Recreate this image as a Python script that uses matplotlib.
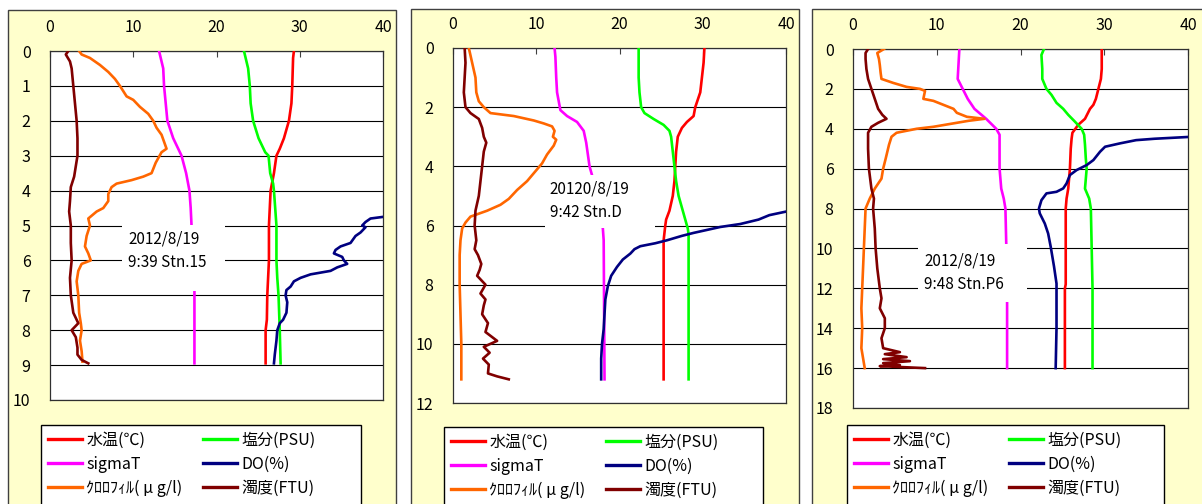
import matplotlib
matplotlib.use("Agg")
import matplotlib.pyplot as plt
from matplotlib.patches import Rectangle
from matplotlib.lines import Line2D

plt.rcParams['font.family'] = ['Noto Sans CJK JP', 'DejaVu Sans']

W, H = 1202, 504

# ---- Stn.15 ----
p1_temp_d = [0, 0.2, 1.0, 1.5, 2.0, 2.5, 2.8, 3.0, 3.5, 4.0, 5.0, 6.0, 6.5, 7.0, 7.7, 8.0, 8.95]
p1_temp = [29.3, 29.2, 29.1, 29.0, 28.7, 28.1, 27.6, 27.2, 26.9, 26.5, 26.3, 26.3, 26.2, 26.1, 26.05, 25.9, 25.9]
p1_sal_d = [0, 0.3, 0.5, 1, 1.5, 2, 2.5, 2.9, 3.0, 3.5, 3.8, 4.0, 4.5, 5, 6, 6.5, 7, 8, 8.95]
p1_sal = [23.3, 23.6, 23.8, 24.0, 24.1, 24.4, 25.05, 25.85, 26.25, 26.45, 26.8, 26.9, 27.05, 27.2, 27.2, 27.3, 27.45, 27.6, 27.7]
p1_sig_d = [0, 0.5, 1.0, 1.5, 2.0, 2.5, 3.0, 3.5, 4.0, 4.5, 5.0, 6.85, 8.95]
p1_sig = [13.1, 13.6, 13.7, 13.9, 14.1, 14.8, 15.8, 16.35, 16.75, 16.9, 17.0, 17.35, 17.35]
p1_do_d = [4.7, 4.75, 4.8, 4.9, 5.0, 5.05, 5.2, 5.3, 5.5, 5.6, 5.7, 5.8, 5.9, 6.0, 6.1, 6.2, 6.3, 6.4,
           6.5, 6.6, 6.75, 6.85, 7.0, 7.2, 7.5, 7.7, 7.8, 8.0, 8.3, 8.7, 8.95]
p1_do = [40.5, 40.1, 38.5, 37.9, 37.5, 37.9, 37.3, 36.7, 36.1, 34.9, 34.3, 34.1, 35.1, 35.3, 35.7, 34.5,
         33.7, 31.3, 30.1, 29.3, 28.9, 28.4, 28.3, 28.5, 28.4, 28.0, 27.6, 27.3, 27.2, 27.0, 26.9]
p1_chl_d = [0, 0.1, 0.2, 0.4, 0.6, 0.8, 1.0, 1.3, 1.4, 1.6, 1.8, 2.0, 2.2, 2.4, 2.6, 2.8, 2.9, 3.2, 3.5,
            3.6, 3.7, 3.8, 3.9, 4.1, 4.3, 4.5, 4.6, 4.8, 5.0, 5.3, 5.6, 5.8, 6.0, 6.1, 6.3, 6.6, 7.0,
            7.5, 7.8, 8.0, 8.3, 8.6, 8.9]
p1_chl = [3.5, 3.8, 4.8, 6.0, 7.0, 7.8, 8.4, 9.2, 10.0, 10.8, 11.8, 12.4, 12.8, 13.4, 13.7, 14.0, 13.4,
          12.7, 12.2, 11.2, 9.8, 8.0, 7.4, 7.0, 7.0, 6.4, 5.6, 4.6, 4.8, 4.4, 4.2, 4.6, 4.9, 3.8, 3.4,
          3.2, 3.4, 3.5, 3.7, 3.8, 3.6, 3.8, 3.9]
p1_tur_d = [0, 0.1, 0.3, 0.5, 1.0, 1.5, 2.0, 2.5, 3.0, 3.3, 3.6, 3.9, 4.3, 4.6, 5.0, 5.5, 6.0, 6.5, 7.0,
            7.5, 7.8, 8.0, 8.2, 8.5, 8.7, 8.85, 8.95]
p1_tur = [2.2, 1.9, 2.4, 2.6, 2.8, 3.0, 3.2, 3.3, 3.3, 3.1, 2.9, 2.5, 2.4, 2.3, 2.5, 2.5, 2.6, 2.4, 2.5,
          2.8, 3.4, 2.6, 3.1, 3.3, 3.3, 3.8, 4.6]

# ---- Stn.D ----
p2_temp_d = [0, 0.5, 1.0, 1.5, 2.0, 2.3, 2.5, 2.7, 3.0, 3.5, 4.0, 4.5, 5.0, 5.5, 5.8, 6.0, 6.5, 11.2]
p2_temp = [30.2, 30.1, 29.9, 29.7, 29.1, 28.9, 28.1, 27.5, 27.0, 26.8, 26.7, 26.6, 26.4, 26.0, 25.6, 25.5, 25.3, 25.3]
p2_sal_d = [0, 1.0, 1.5, 2.0, 2.2, 2.4, 2.6, 2.8, 3.0, 3.5, 4.0, 4.5, 5.0, 5.5, 5.8, 6.1, 6.3, 11.2]
p2_sal = [22.3, 22.3, 22.4, 22.6, 23.0, 24.1, 25.3, 26.0, 26.2, 26.4, 26.6, 26.8, 27.1, 27.6, 27.9, 28.2, 28.3, 28.3]
p2_sig_d = [0, 0.3, 1.0, 1.5, 1.8, 2.1, 2.3, 2.5, 2.8, 3.2, 3.6, 4.0, 4.3, 6.1, 6.5, 11.2]
p2_sig = [12.2, 12.3, 12.4, 12.5, 12.7, 12.9, 13.7, 14.9, 15.7, 16.0, 16.2, 16.4, 16.7, 18.0, 18.1, 18.2]
p2_do_d = [5.5, 5.65, 5.8, 5.95, 6.05, 6.15, 6.25, 6.35, 6.5, 6.6, 6.7, 6.8, 6.95, 7.15, 7.4, 7.7, 8.05,
           8.5, 9.0, 9.5, 10.0, 10.5, 11.2]
p2_do = [40.5, 38.0, 36.7, 34.5, 32.1, 30.5, 28.9, 27.5, 25.7, 24.3, 22.5, 21.8, 21.3, 20.4, 19.7, 19.0,
         18.6, 18.3, 18.2, 18.1, 17.9, 17.8, 17.8]
p2_chl_d = [0, 0.5, 1.0, 1.5, 1.8, 2.0, 2.2, 2.3, 2.45, 2.55, 2.65, 2.8, 3.0, 3.1, 3.3, 3.6, 3.9, 4.1,
            4.5, 4.8, 5.1, 5.3, 5.5, 5.7, 5.9, 6.1, 6.5, 7.0, 8.0, 9.0, 10.0, 11.2]
p2_chl = [1.9, 2.3, 2.7, 2.8, 3.1, 3.7, 4.5, 7.3, 9.7, 10.9, 11.9, 12.2, 12.0, 12.4, 12.1, 11.3, 10.7,
          10.1, 8.9, 7.7, 6.7, 5.7, 4.1, 2.1, 1.5, 1.1, 0.9, 0.8, 0.8, 0.9, 1.0, 1.0]
p2_tur_d = [0, 0.5, 1.0, 1.5, 2.0, 2.2, 2.4, 2.7, 3.0, 3.2, 3.5, 4.0, 4.5, 5.0, 5.5, 6.0, 6.5, 6.8, 7.0,
            7.3, 7.5, 7.7, 8.0, 8.3, 8.5, 8.7, 9.0, 9.3, 9.6, 9.9, 10.1, 10.3, 10.5, 10.7, 11.0, 11.1, 11.2]
p2_tur = [1.4, 1.5, 1.4, 1.3, 1.5, 2.1, 3.1, 3.5, 3.7, 4.0, 3.7, 3.5, 3.3, 3.1, 2.7, 2.6, 2.8, 2.6, 3.0,
          3.4, 3.2, 2.9, 3.9, 3.3, 3.9, 3.7, 3.5, 4.2, 3.9, 5.3, 3.7, 4.4, 3.6, 4.3, 4.2, 5.3, 6.7]

# ---- Stn.P6 ----
p3_temp_d = [0, 1.0, 1.5, 2.0, 2.5, 2.8, 3.0, 3.5, 3.8, 4.2, 4.5, 5.0, 6.0, 7.0, 7.5, 8.0, 10.0, 11.8, 12.0, 16.0]
p3_temp = [29.7, 29.7, 29.6, 29.3, 29.0, 28.7, 28.3, 27.7, 26.9, 26.2, 26.1, 26.0, 25.9, 25.7, 25.5, 25.4,
           25.4, 25.4, 25.3, 25.3]
p3_sal_d = [0, 0.3, 1.0, 1.5, 2.0, 2.3, 2.7, 3.0, 3.3, 3.6, 4.0, 4.3, 4.8, 5.5, 6.0, 7.0, 7.5, 8.0, 10.0, 12.0, 16.0]
p3_sal = [22.8, 22.5, 22.6, 22.6, 23.1, 23.7, 24.3, 25.1, 25.7, 26.4, 27.3, 27.6, 27.7, 27.8, 27.9, 27.7,
          28.2, 28.4, 28.5, 28.6, 28.6]
p3_sig_d = [0, 1.5, 2.0, 2.5, 3.0, 3.5, 4.0, 4.3, 5.0, 6.0, 7.0, 7.5, 8.0, 9.8, 12.7, 16.0]
p3_sig = [12.7, 12.5, 13.1, 13.7, 14.5, 15.9, 17.1, 17.5, 17.5, 17.5, 17.7, 18.0, 18.2, 18.3, 18.4, 18.4]
p3_do_d = [4.4, 4.5, 4.57, 4.73, 4.9, 5.15, 5.57, 5.82, 6.07, 6.32, 6.74, 6.99, 7.16, 7.24, 7.58, 8.0,
           8.24, 8.75, 9.25, 9.9, 10.9, 11.76, 14.0, 16.0]
p3_do = [40.5, 36.0, 33.8, 31.9, 30.1, 29.5, 28.7, 27.9, 26.7, 25.9, 25.5, 25.1, 24.3, 23.1, 22.5, 22.2,
         22.3, 22.9, 23.3, 23.6, 24.0, 24.3, 24.3, 24.2]
p3_chl_d = [0, 0.2, 0.5, 0.8, 1.2, 1.5, 1.7, 1.9, 2.0, 2.1, 2.5, 2.6, 2.8, 3.0, 3.2, 3.4, 3.5, 3.6, 3.7,
            3.9, 4.0, 4.2, 4.4, 4.8, 5.5, 6.0, 6.5, 7.0, 7.5, 8.0, 9.0, 10.0, 11.0, 12.0, 13.0, 14.0, 15.0, 16.0]
p3_chl = [3.7, 2.9, 3.1, 3.2, 3.3, 3.4, 4.8, 6.4, 8.0, 8.6, 8.4, 9.6, 10.8, 12.0, 12.4, 13.6, 15.7, 13.8,
          12.4, 9.6, 7.6, 5.2, 4.6, 4.3, 3.9, 3.6, 3.4, 2.6, 2.0, 1.5, 1.4, 1.3, 1.2, 1.1, 1.0, 1.1, 1.0, 1.4]
p3_tur_d = [0, 0.2, 0.5, 1.0, 1.5, 2.0, 2.5, 3.0, 3.3, 3.5, 3.7, 3.9, 4.2, 5.0, 6.0, 7.0, 7.5, 8.0, 9.0,
            10.0, 11.0, 12.0, 12.5, 13.0, 13.5, 14.0, 14.5, 15.0, 15.2, 15.3, 15.45, 15.55, 15.65, 15.75,
            15.85, 15.9, 16.0]
p3_tur = [1.8, 1.5, 1.5, 1.6, 1.8, 2.2, 2.6, 3.0, 3.5, 4.0, 3.0, 2.2, 1.8, 1.8, 1.9, 2.2, 2.5, 2.4, 2.6,
          2.7, 2.9, 3.2, 3.4, 3.2, 3.8, 3.8, 3.4, 3.6, 5.6, 3.8, 6.4, 3.6, 6.8, 3.6, 5.6, 3.2, 8.6]

labels = ['水温(℃)', 'sigmaT', 'ｸﾛﾛﾌｨﾙ( μ g/l)', '塩分(PSU)', 'DO(%)', '濁度(FTU)']
colors = ['#FF0000', '#FF00FF', '#FF6600', '#00FF00', '#000080', '#800000']

notes = ['2012/8/19\n9:39 Stn.15', '20120/8/19\n9:42 Stn.D', '2012/8/19\n9:48 Stn.P6']
ymax = [10, 12, 18]
ystep = [1, 2, 2]

panels = [
    [(p1_temp_d, p1_temp), (p1_sig_d, p1_sig), (p1_chl_d, p1_chl),
     (p1_sal_d, p1_sal), (p1_do_d, p1_do), (p1_tur_d, p1_tur)],
    [(p2_temp_d, p2_temp), (p2_sig_d, p2_sig), (p2_chl_d, p2_chl),
     (p2_sal_d, p2_sal), (p2_do_d, p2_do), (p2_tur_d, p2_tur)],
    [(p3_temp_d, p3_temp), (p3_sig_d, p3_sig), (p3_chl_d, p3_chl),
     (p3_sal_d, p3_sal), (p3_do_d, p3_do), (p3_tur_d, p3_tur)],
]

# layout in pixels (left, top, right, bottom)
frames = [(8, 10, 396, 520), (411, 9, 799, 520), (812, 9, 1215, 520)]
axboxes = [(50, 51, 383, 400), (453, 48, 786, 403), (853, 49, 1188, 408)]
legboxes = [(41, 425, 361, 520), (444, 427, 763, 520), (847, 425, 1164, 520)]
# note box in data units (x0, x1, d0, d1) and text anchor
note_box = [(8.65, 21.0, 4.99, 6.88), (11.05, 24.25, 4.29, 6.1), (7.76, 20.8, 9.8, 12.7)]
note_xy = [(9.4, 5.72), (11.6, 5.17), (8.5, 11.2)]


def fig_rect(l, t, r, b):
    return [l / W, 1 - b / H, (r - l) / W, (b - t) / H]


fig = plt.figure(figsize=(W / 100, H / 100), dpi=100)
fig.patch.set_facecolor('white')

for i in range(3):
    fr = fig_rect(*frames[i])
    fig.add_artist(Rectangle((fr[0], fr[1]), fr[2], fr[3], transform=fig.transFigure,
                             facecolor='#FFFFCC', edgecolor='#404040', lw=1.0, zorder=0))

    ax = fig.add_axes(fig_rect(*axboxes[i]))
    ax.set_facecolor('white')
    for (d, v), c in zip(panels[i], colors):
        ax.plot(v, d, color=c, lw=1.9, zorder=3)

    ax.set_xlim(0, 40)
    ax.set_ylim(ymax[i], 0)
    ax.set_xticks([0, 10, 20, 30, 40])
    ax.set_yticks(list(range(0, ymax[i] + 1, ystep[i])))
    ax.xaxis.tick_top()
    ax.tick_params(axis='x', direction='in', length=4, pad=11, labelsize=11.5, color='#404040')
    ax.tick_params(axis='y', length=0, pad=14, labelsize=11.5)
    ax.yaxis.grid(True, color='black', lw=0.8, zorder=1)
    ax.set_axisbelow(True)
    for s in ax.spines.values():
        s.set_color('#303030')
        s.set_linewidth(0.9)

    # white label box over the lines
    x0, x1, d0, d1 = note_box[i]
    ax.add_patch(Rectangle((x0, d0), x1 - x0, d1 - d0, facecolor='white', edgecolor='none', zorder=4))
    ax.text(note_xy[i][0], note_xy[i][1], notes[i], fontsize=11, va='center', ha='left',
            linespacing=1.5, zorder=5)

    # legend box
    lr = fig_rect(*legboxes[i])
    fig.add_artist(Rectangle((lr[0], lr[1]), lr[2], lr[3], transform=fig.transFigure,
                             facecolor='white', edgecolor='black', lw=1.0, zorder=1))
    handles = [Line2D([0], [0], color=c, lw=2.4) for c in colors]
    lx, ly = legboxes[i][0] + 7, legboxes[i][1] + 7
    leg = fig.legend(handles, labels, loc='upper left', ncol=2,
                     bbox_to_anchor=(lx / W, 1 - ly / H), bbox_transform=fig.transFigure,
                     fontsize=11.5, frameon=False, handlelength=2.1, handletextpad=0.3,
                     labelspacing=0.42, borderpad=0, columnspacing=1.3, borderaxespad=0)
    leg.set_zorder(2)

fig.savefig('out.png', dpi=100, facecolor='white')
